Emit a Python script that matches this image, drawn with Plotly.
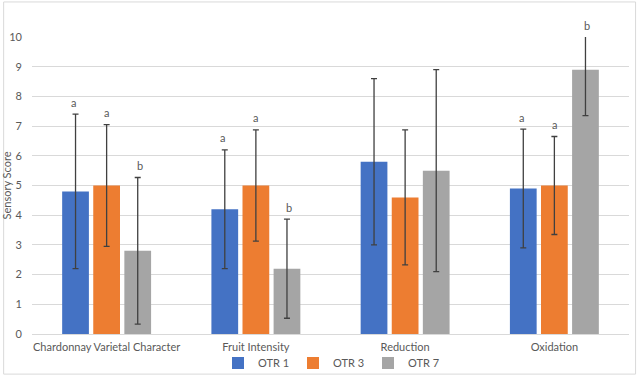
import plotly.graph_objects as go

categories = ["Chardonnay Varietal Character", "Fruit Intensity", "Reduction", "Oxidation"]
series_names = ["OTR 1", "OTR 3", "OTR 7"]
otr1 = [4.8, 4.2, 5.8, 4.9]
otr3 = [5.0, 5.0, 4.6, 5.0]
otr7 = [2.8, 2.2, 5.5, 8.9]
otr1_err = [2.6, 2.0, 2.8, 2.0]
otr3_err = [2.05, 1.87, 2.27, 1.65]
otr7_err = [2.47, 1.67, 3.4, 1.55]
otr1_letters = ["a", "a", "", "a"]
otr3_letters = ["a", "a", "", "a"]
otr7_letters = ["b", "b", "", "b"]
y_ticks = list(range(0, 11))

colors = ["#4472C4", "#ED7D31", "#A5A5A5"]
values = [otr1, otr3, otr7]
errors = [otr1_err, otr3_err, otr7_err]
letters = [otr1_letters, otr3_letters, otr7_letters]

FONT = "Lato"
TXT = "#595959"

fig = go.Figure()
for name, v, e, c in zip(series_names, values, errors, colors):
    fig.add_trace(go.Bar(
        x=categories, y=v, name=name, marker=dict(color=c, line=dict(width=0)),
        error_y=dict(type="data", array=e, visible=True, color="#404040",
                     thickness=1.3, width=3),
    ))

ymax = 10
shifts = [-33, 0, 33]
for i in range(3):
    for j, cat in enumerate(categories):
        if letters[i][j]:
            top = min(values[i][j] + errors[i][j], ymax)
            fig.add_annotation(x=cat, y=top, text=letters[i][j], showarrow=False,
                               xshift=shifts[i], yshift=12,
                               font=dict(family=FONT, size=11, color=TXT))

fig.add_shape(type="rect", xref="paper", yref="paper",
              x0=-0.0475, x1=1.011, y0=-0.135, y1=1.118,
              line=dict(color="#D9D9D9", width=1), fillcolor="rgba(0,0,0,0)")

fig.update_layout(
    width=640, height=380,
    margin=dict(l=32, r=11, t=37, b=46, autoexpand=False),
    paper_bgcolor="white", plot_bgcolor="white",
    barmode="group", bargap=0.375, bargroupgap=0.14,
    font=dict(family=FONT, size=11, color=TXT),
    legend=dict(orientation="h", x=0.5, xanchor="center", y=-0.098, yanchor="middle",
                bgcolor="rgba(0,0,0,0)",
                font=dict(family=FONT, size=11, color=TXT),
                itemwidth=30, tracegroupgap=0, traceorder="normal",
                entrywidth=30, entrywidthmode="pixels"),
    xaxis=dict(showgrid=False, showline=True, linecolor="#D9D9D9", linewidth=1,
               ticks="", automargin=False, ticklabelstandoff=3,
               tickfont=dict(family=FONT, size=11, color=TXT)),
    yaxis=dict(range=[0, ymax], tickvals=y_ticks, showgrid=True, gridcolor="#D9D9D9",
               gridwidth=1, zeroline=False, showline=False, ticks="", automargin=False,
               ticklabelstandoff=9,
               tickfont=dict(family=FONT, size=11, color=TXT),
               title=dict(text="Sensory Score", standoff=0,
                          font=dict(family=FONT, size=11, color=TXT))),
)

fig.write_html("out.html", config={"displayModeBar": False},
               post_script="document.body.style.margin='0';")
